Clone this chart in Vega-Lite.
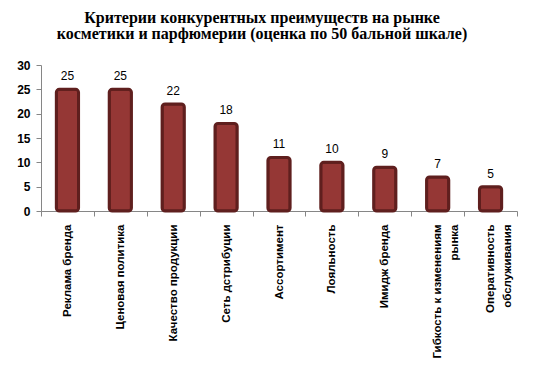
{
  "$schema": "https://vega.github.io/schema/vega-lite/v6.json",
  "autosize": "none",
  "width": 476,
  "height": 146,
  "padding": {"left": 41, "top": 65, "right": 17, "bottom": 168},
  "background": "white",
  "title": {
    "text": ["Критерии конкурентных преимуществ на рынке", "косметики и парфюмерии (оценка по 50 бальной шкале)"],
    "font": "Liberation Serif",
    "fontSize": 16,
    "fontWeight": "bold",
    "lineHeight": 16,
    "color": "#000000",
    "anchor": "middle",
    "dx": -17,
    "offset": 17
  },
  "data": {
    "values": [
      {"criterion": "Реклама бренда", "score": 25},
      {"criterion": "Ценовая политика", "score": 25},
      {"criterion": "Качество продукции", "score": 22},
      {"criterion": "Сеть дстрибуции", "score": 18},
      {"criterion": "Ассортимент", "score": 11},
      {"criterion": "Лояльность", "score": 10},
      {"criterion": "Имидж бренда", "score": 9},
      {"criterion": "Гибкость к изменениям|рынка", "score": 7},
      {"criterion": "Оперативность|обслуживания", "score": 5}
    ]
  },
  "encoding": {
    "x": {
      "field": "criterion",
      "type": "nominal",
      "sort": null,
      "scale": {"paddingInner": 0, "paddingOuter": 0},
      "axis": {
        "title": null,
        "labelAngle": -90,
        "labelAlign": "right",
        "labelBaseline": "middle",
        "labelFont": "Liberation Sans",
        "labelFontSize": 11.5,
        "labelFontWeight": "bold",
        "labelColor": "#000000",
        "labelPadding": 8,
        "labelLimit": 200,
        "labelExpr": "split(datum.label, '|')",
        "labelLineHeight": 17,
        "tickBand": "extent",
        "tickSize": 5,
        "tickColor": "#868686",
        "domainColor": "#868686",
        "grid": false
      }
    },
    "y": {
      "field": "score",
      "type": "quantitative",
      "scale": {"domain": [0, 30], "nice": false},
      "axis": {
        "title": null,
        "values": [0, 5, 10, 15, 20, 25, 30],
        "labelFont": "Liberation Sans",
        "labelFontSize": 12,
        "labelFontWeight": "bold",
        "labelColor": "#000000",
        "labelPadding": 6,
        "tickSize": 5,
        "tickColor": "#868686",
        "domainColor": "#868686",
        "grid": false
      }
    }
  },
  "layer": [
    {
      "mark": {
        "type": "bar",
        "width": {"band": 0.42},
        "fill": "#953735",
        "stroke": "#5f1f1e",
        "strokeWidth": 3,
        "cornerRadius": 3
      }
    },
    {
      "mark": {
        "type": "text",
        "baseline": "bottom",
        "dy": -6,
        "font": "Liberation Sans",
        "fontSize": 12,
        "color": "#000000"
      },
      "encoding": {"text": {"field": "score", "type": "quantitative"}}
    }
  ],
  "config": {"view": {"stroke": null}}
}
